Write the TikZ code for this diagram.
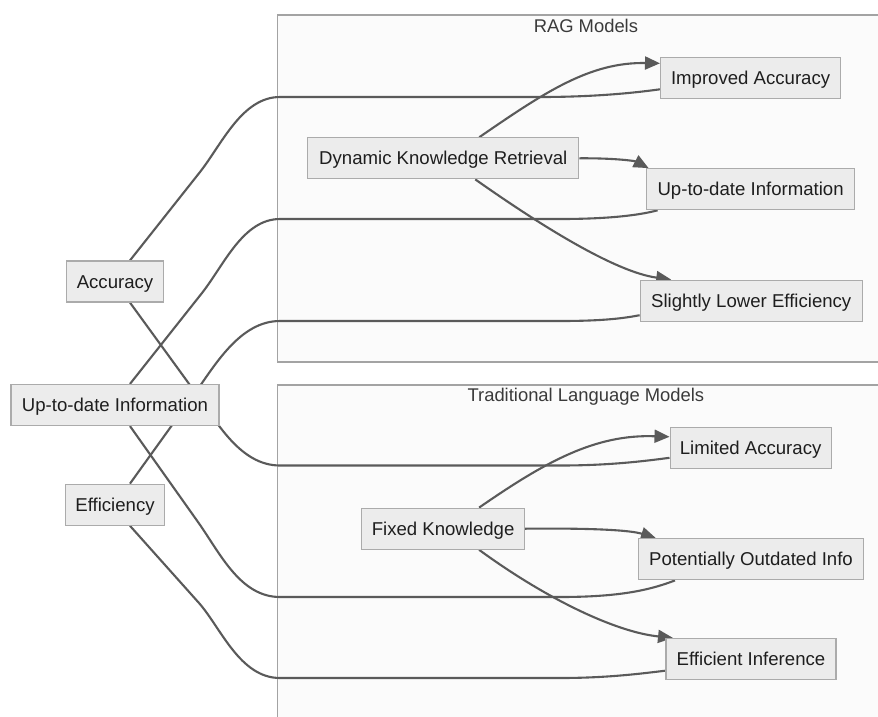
\documentclass[tikz,border=0pt]{standalone}
\usepackage{fontspec}
\setmainfont{Liberation Sans}
\usetikzlibrary{arrows.meta}
\pgfdeclarelayer{bg}
\pgfdeclarelayer{edges}
\pgfsetlayers{bg,edges,main}
\definecolor{nodefill}{HTML}{ECECEC}
\definecolor{nodeline}{HTML}{ABABAB}
\definecolor{framefill}{HTML}{FBFBFB}
\definecolor{frameline}{HTML}{A3A3A3}
\definecolor{edgecol}{HTML}{5A5A5A}
\definecolor{textcol}{HTML}{1E1E1E}
\definecolor{titlecol}{HTML}{3A3A3A}
\tikzset{
  box/.style={draw=nodeline, line width=1.2pt, fill=nodefill, minimum height=41pt,
    inner sep=0pt, text=textcol, font=\fontsize{18.6}{20}\selectfont,
    text height=17pt, text depth=3.9pt},
  frame/.style={draw=frameline, line width=1.3pt, fill=framefill},
  frametitle/.style={text=titlecol, font=\fontsize{18.4}{20}\selectfont, inner sep=0pt},
  link/.style={draw=edgecol, line width=2.1pt},
  flow/.style={link, -{Triangle[length=15pt,width=13pt]}}
}
\begin{document}
\begin{tikzpicture}[x=1pt,y=-1pt]
\useasboundingbox (0,0) rectangle (878,716);

% nodes
\node[box, minimum width=97pt]    (acc)    at (115,281.5) {Accuracy};
\node[box, minimum width=208pt]   (utdL)   at (115,405)   {Up-to-date Information};
\node[box, minimum width=98.6pt]  (eff)    at (115,504.7) {Efficiency};

\node[box, minimum width=180pt]   (impAcc) at (750.6,77.8)  {Improved Accuracy};
\node[box, minimum width=271pt]   (dkr)    at (443.3,158.3) {Dynamic Knowledge Retrieval};
\node[box, minimum width=208pt]   (utdR)   at (750.6,189.2) {Up-to-date Information};
\node[box, minimum width=222pt]   (sle)    at (751.2,300.7) {Slightly Lower Efficiency};

\node[box, minimum width=161pt]   (limAcc) at (750.6,447.8) {Limited Accuracy};
\node[box, minimum width=163pt]   (fk)     at (443.1,528.7) {Fixed Knowledge};
\node[box, minimum width=225.6pt] (poi)    at (751,559.3)   {Potentially Outdated Info};
\node[box, minimum width=170pt]   (ei)     at (751,659)     {Efficient Inference};

\node[frametitle] (ragT) at (585.9,26) {RAG Models};
\node[frametitle] (tradT) at (585.9,396.7) {Traditional Language Models};

% frames
\begin{pgfonlayer}{bg}
\clip (0,0) rectangle (878,716);
\fill[white] (0,0) rectangle (878,716);
\draw[frame] (277.8,15) rectangle (900,362);
\draw[frame] (277.8,385) rectangle (900,740);
\end{pgfonlayer}

\begin{pgfonlayer}{edges}
\clip (0,0) rectangle (878,716);
% RAG flows
\draw[flow] ([xshift=36pt]dkr.north) .. controls (545,92) and (590,62) .. ([yshift=14.5pt]impAcc.west);
\draw[flow] (dkr.east) .. controls (615,158) and (635,161) .. ([xshift=-102pt]utdR.north);
\draw[flow] ([xshift=32pt]dkr.south) .. controls (540,225) and (615,272) .. ([xshift=-80pt]sle.north);
% Traditional flows
\draw[flow] ([xshift=36pt]fk.north) .. controls (545,462) and (595,434) .. ([yshift=11pt]limAcc.west);
\draw[flow] (fk.east) .. controls (590,528) and (630,530) .. ([xshift=-95pt]poi.north);
\draw[flow] ([xshift=36pt]fk.south) .. controls (545,598) and (615,632) .. ([xshift=-78pt]ei.north);

% links from left column
\draw[link] ([xshift=15pt]acc.north) -- (200,172) .. controls (222,144) and (242,97) .. (280,97)
  -- (540,97) .. controls (600,97) and (640,92) .. ([yshift=-11.5pt]impAcc.west);
\draw[link] ([xshift=15pt]acc.south) -- (195,392) .. controls (217,422) and (240,465.5) .. (280,465.5)
  -- (560,465.5) .. controls (610,465.5) and (645,461) .. ([yshift=-10pt]limAcc.west);
\draw[link] ([xshift=15pt]utdL.north) -- (202,293) .. controls (224,265) and (243,219) .. (280,219)
  -- (560,219) .. controls (610,219) and (640,215) .. ([xshift=-93pt]utdR.south);
\draw[link] ([xshift=15pt]eff.north) -- (193,396) .. controls (215,365) and (240,321) .. (280,321)
  -- (560,321) .. controls (605,321) and (625,318) .. ([yshift=-14.5pt]sle.west);
\draw[link] ([xshift=15pt]utdL.south) -- (198,522) .. controls (220,553) and (240,597) .. (280,597)
  -- (560,597) .. controls (620,597) and (650,590) .. ([xshift=-76pt]poi.south);
\draw[link] ([xshift=15pt]eff.south) -- (199,603) .. controls (221,628) and (240,678) .. (280,678)
  -- (560,678) .. controls (610,678) and (645,673) .. ([yshift=-11.7pt]ei.west);
\end{pgfonlayer}
\end{tikzpicture}
\end{document}
